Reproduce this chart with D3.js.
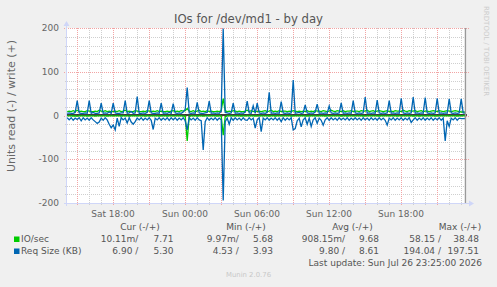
<!DOCTYPE html>
<html>
<head>
<meta charset="utf-8">
<script src="https://cdn.jsdelivr.net/npm/d3@7/dist/d3.min.js"></script>
<style>
  body { margin: 0; background: #f0f0f0; }
  svg text { font-family: 'DejaVu Sans', sans-serif; }
</style>
</head>
<body>
<svg id="chart" width="497" height="287"></svg>
<script>
// values, one sample every 10 minutes from Sat 14:11
// one line = one hour (6 samples)
var ioWrite = [
  9,10,9,11,9,12,   9,10,9,9,11,10,   9,9,10,9,12,10,   9,11,9,10,9,9,
  10,9,11,9,10,12,  9,10,9,9,11,10,   9,9,10,9,11,10,   9,10,9,11,9,10,
  9,9,10,9,10,11,   9,10,9,11,10,11,  16,10,9,11,9,10,  12,9,10,9,11,9,
  10,9,9,10,9,11,   38.5,11,9,10,9,11, 10,9,10,9,9,10,  12,9,11,9,10,9,
  10,9,10,11,9,10,  12,9,10,9,11,9,   10,10,9,10,9,11,  10,9,10,9,10,9,
  11,9,10,9,11,10,  10,9,11,10,9,10,  12,10,9,11,10,9,  11,9,10,10,11,9,
  10,10,9,11,10,10, 12,9,10,11,9,10,  11,10,9,10,11,9,  10,9,11,10,10,9,
  12,10,9,11,10,10, 11,9,10,11,9,10,  10,9,10,11,10,9,  11,10,9,10,11,10,
  9,10,11,10,9,8,   8,7.7
]
var ioRead = [
  0.9,1,0.8,1.1,1,1.2,  0.9,1,1,0.8,1.1,1,  1,0.9,1.2,1,0.8,1,  0.9,1,1.1,0.9,1,1,
  1,0.8,1,1.1,0.9,1,    1,1.2,0.9,1,1,0.8,  0.9,1,1,1.1,0.9,1,  1,0.9,1,0.8,1.1,1,
  0.9,1,1.1,1,0.9,1,    1,0.8,1,1,1.2,1,    58.15,2,1,0.9,1,1.1, 1,0.9,1.2,1,0.8,1,
  1,1,0.9,1.1,1,0.9,    45,3,1,0.9,1,1,     1,0.9,1,1.1,1,0.8,  1,1,0.9,1,1.1,1,
  0.9,1,1,0.8,1,1.1,    1,0.9,1.1,1,0.9,1,  1,1,0.8,1,1.1,0.9,  1,0.9,1,1,0.8,1,
  1.1,1,0.9,1,1,0.8,    1,0.9,1,1.1,1,1,    0.9,1,1,0.8,1,1.1,  1,0.9,1.1,1,0.9,1,
  1,1,0.8,1,1.1,0.9,    1,0.9,1,1,0.8,1,    1.1,1,0.9,1,1,0.8,  1,0.9,1,1.1,1,1,
  0.9,1,1,0.8,1,1.1,    1,0.9,1.1,1,0.9,1,  1,1,0.8,1,1.1,0.9,  1,0.9,1,1,0.8,1,
  1,0.9,1,1.1,1,0.9,    1,0.01
]
var reqWrite = [
  5,6,5,5,7,34,   6,5,5,6,5,34,   5,7,5,5,6,28,   5,6,5,8,5,28,
  6,5,5,6,6,34,   5,6,9,5,6,43,   5,5,6,5,7,34,   6,5,5,6,5,28,
  5,6,5,7,5,27,   6,5,6,5,8,14,   64,6,5,6,5,30,  6,5,5,6,7,33,
  5,6,5,6,5,9,    199,7,6,5,6,28, 5,6,5,6,5,8,    33,6,5,22,5,28,
  6,5,6,5,7,53,   5,6,5,6,5,32,   6,5,6,5,6,81,   5,6,7,5,6,24,
  6,5,6,5,8,26,   5,6,5,6,5,22,   6,5,6,5,6,29,   5,6,5,6,5,34,
  6,5,6,5,6,42,   5,6,5,6,5,35,   6,5,6,5,6,34,   5,6,5,6,5,39,
  6,5,6,5,6,42,   5,6,5,6,5,41,   6,5,6,5,6,39,   5,6,5,6,5,38,
  6,5,6,5,6,38,   6,5.3
]
var reqRead = [
  5,10,5,11,6,9,    5,12,5,10,6,11,   5,10,14,18,15,6,  11,5,10,20,28,22,
  33,6,25,5,10,6,   17,5,15,20,14,6,  10,5,11,6,10,5,   11,32,6,10,5,11,
  6,10,5,11,5,10,   5,11,6,10,5,12,   33,5,10,6,11,5,   10,12,79,14,5,11,
  6,10,5,11,6,10,   194.04,14,6,20,5,11, 5,10,6,11,5,10, 11,5,10,6,29,10,
  5,37,6,10,5,11,   6,10,5,11,6,14,   5,11,6,10,5,33,   30,12,6,26,10,5,
  20,6,25,10,5,18,  6,11,22,10,5,11,  5,10,6,11,5,10,   6,10,5,11,6,10,
  5,10,6,11,5,10,   6,11,5,10,6,11,   5,10,6,11,22,6,   10,5,11,6,10,5,
  11,6,10,5,16,10,  5,11,6,10,5,11,   6,10,5,11,6,10,   5,11,6,58,12,25,
  6,10,5,11,6,7,    7,6.9
]

var yTicks = [-200, -100, 0, 100, 200]
var seriesNames = ['IO/sec', 'Req Size (KB)']
var seriesColors = ['#00cc00', '#0066b3']
var legendHeads = ['Cur (-/+)', 'Min (-/+)', 'Avg (-/+)', 'Max (-/+)']
// read / write pairs per column, per series
var curVals = [['10.11m', '7.71'], ['6.90 ', '5.30']]
var minVals = [['9.97m', '5.68'], ['4.53 ', '3.93']]
var avgVals = [['908.15m', '9.68'], ['9.80 ', '8.61']]
var maxVals = [['58.15 ', '38.48'], ['194.04 ', '197.51']]

var startTime = new Date(Date.UTC(2026, 6, 25, 14, 10))
var endTime = new Date(Date.UTC(2026, 6, 26, 23, 30))
var firstSample = new Date(Date.UTC(2026, 6, 25, 14, 11))
var lastUpdate = new Date(Date.UTC(2026, 6, 26, 23, 25))
var stepMs = 10 * 60 * 1000

// plot box (window.top is taken, so px names)
var pxLeft = 67, pxRight = 467, pxTop = 28, pxBottom = 203

var svg = d3.select('#chart')
var x = d3.scaleUtc().domain([startTime, endTime]).range([pxLeft, pxRight])
var y = d3.scaleLinear().domain([-200, 200]).range([pxBottom, pxTop])

function timeOf (i) { return new Date(firstSample.getTime() + i * stepMs) }

svg.append('rect').attr('width', 497).attr('height', 287).attr('fill', '#f0f0f0')
svg.append('rect').attr('x', pxLeft).attr('y', pxTop)
  .attr('width', pxRight - pxLeft).attr('height', pxBottom - pxTop).attr('fill', '#fff')

// grid
var hours = d3.utcHour.range(startTime, endTime)
var g = svg.append('g')
g.selectAll('.vmin').data(hours.filter(function (d) { return d.getUTCHours() % 3 })).enter()
  .append('line')
  .attr('x1', function (d) { return Math.round(x(d)) + 0.5 })
  .attr('x2', function (d) { return Math.round(x(d)) + 0.5 })
  .attr('y1', pxTop).attr('y2', pxBottom + 2)
  .attr('stroke', '#cfcfcf').attr('stroke-dasharray', '1,1')
var yMinor = d3.range(-200, 201, 20).filter(function (v) { return v % 100 })
g.selectAll('.hmin').data(yMinor).enter().append('line')
  .attr('x1', pxLeft - 2).attr('x2', pxRight)
  .attr('y1', function (d) { return Math.round(y(d)) + 0.5 })
  .attr('y2', function (d) { return Math.round(y(d)) + 0.5 })
  .attr('stroke', '#cfcfcf').attr('stroke-dasharray', '1,1')
g.selectAll('.vmaj').data(hours.filter(function (d) { return d.getUTCHours() % 3 === 0 })).enter()
  .append('line')
  .attr('x1', function (d) { return Math.round(x(d)) + 0.5 })
  .attr('x2', function (d) { return Math.round(x(d)) + 0.5 })
  .attr('y1', pxTop).attr('y2', pxBottom + 3)
  .attr('stroke', '#f2a4a4').attr('stroke-dasharray', '1,1')
g.selectAll('.hmaj').data(yTicks).enter().append('line')
  .attr('x1', pxLeft - 3).attr('x2', pxRight + 3)
  .attr('y1', function (d) { return Math.round(y(d)) + 0.5 })
  .attr('y2', function (d) { return Math.round(y(d)) + 0.5 })
  .attr('stroke', '#f2a4a4').attr('stroke-dasharray', '1,1')

// tick labels
svg.selectAll('.ylab').data(yTicks).enter().append('text')
  .attr('x', 59).attr('y', function (d) { return y(d) + 3.2 })
  .attr('text-anchor', 'end').attr('font-size', 9).attr('fill', '#666')
  .text(function (d) { return d })
var fmt = d3.utcFormat('%a %H:%M')
svg.selectAll('.xlab').data(hours.filter(function (d) { return d.getUTCHours() % 6 === 0 })).enter()
  .append('text')
  .attr('x', function (d) { return x(d) }).attr('y', 216.5)
  .attr('text-anchor', 'middle').attr('font-size', 9).attr('fill', '#666')
  .text(function (d) { return fmt(d) })

// zero line, then the series
svg.append('line').attr('x1', pxLeft).attr('x2', pxRight)
  .attr('y1', y(0) - 0.5).attr('y2', y(0) - 0.5)
  .attr('stroke', '#000').attr('stroke-width', 1.5)

svg.append('clipPath').attr('id', 'clip').append('rect')
  .attr('x', pxLeft).attr('y', pxTop - 1).attr('width', pxRight - pxLeft).attr('height', pxBottom - pxTop + 1)

var line = d3.line()
  .x(function (d, i) { return x(timeOf(i)) })
  .y(function (d) { return y(d) })

var plots = [
  [ioRead.map(function (v) { return -v }), seriesColors[0]],
  [ioWrite, seriesColors[0]],
  [reqRead.map(function (v) { return -v }), seriesColors[1]],
  [reqWrite, seriesColors[1]]
]
var lg = svg.append('g').attr('clip-path', 'url(#clip)')
plots.forEach(function (p) {
  lg.append('path').attr('d', line(p[0]))
    .attr('fill', 'none').attr('stroke', p[1]).attr('stroke-width', 1.3)
})

// last update rule
svg.append('line')
  .attr('x1', Math.round(x(lastUpdate)) - 0.5).attr('x2', Math.round(x(lastUpdate)) - 0.5)
  .attr('y1', pxTop).attr('y2', pxBottom)
  .attr('stroke', '#999').attr('stroke-width', 1.5)

// axes with arrows
var axisCol = '#cfd6f8'
svg.append('line').attr('x1', pxLeft - 0.5).attr('x2', pxLeft - 0.5).attr('y1', pxBottom + 3).attr('y2', pxTop - 4)
  .attr('stroke', axisCol)
svg.append('path').attr('d', 'M' + (pxLeft - 3.5) + ',' + (pxTop - 2) + 'L' + (pxLeft - 0.5) + ',' + (pxTop - 7) + 'L' + (pxLeft + 2.5) + ',' + (pxTop - 2) + 'Z')
  .attr('fill', axisCol)
svg.append('line').attr('x1', pxLeft - 3).attr('x2', pxRight + 4).attr('y1', pxBottom + 0.5).attr('y2', pxBottom + 0.5)
  .attr('stroke', axisCol)
svg.append('path').attr('d', 'M' + (pxRight + 2) + ',' + (pxBottom - 2.5) + 'L' + (pxRight + 7) + ',' + (pxBottom + 0.5) + 'L' + (pxRight + 2) + ',' + (pxBottom + 3.5) + 'Z')
  .attr('fill', axisCol)

// titles
svg.append('text').attr('x', 248.5).attr('y', 23).attr('text-anchor', 'middle')
  .attr('font-size', 11.7).attr('fill', '#555').text('IOs for /dev/md1 - by day')
svg.append('text').attr('transform', 'translate(15,106) rotate(-90)')
  .attr('text-anchor', 'middle').attr('font-size', 11).attr('fill', '#666')
  .text('Units read (-) / write (+)')
svg.append('text').attr('transform', 'translate(484,6) rotate(90)')
  .attr('font-size', 7).attr('fill', '#ccc').text('RRDTOOL / TOBI OETIKER')

// legend
var headX = [140, 246, 352.5, 460]
svg.selectAll('.lhead').data(legendHeads).enter().append('text')
  .attr('x', function (d, i) { return headX[i] }).attr('y', 229.5)
  .attr('text-anchor', 'middle').attr('font-size', 9).attr('fill', '#555')
  .text(function (d) { return d })

var cols = [curVals, minVals, avgVals, maxVals]
var readEnd = [138.3, 238.7, 345, 441]
var writeEnd = [173.5, 273, 379, 479]
seriesNames.forEach(function (name, s) {
  var by = 242 + s * 12
  svg.append('rect').attr('x', 14).attr('y', by - 5.5).attr('width', 5.5).attr('height', 5.5)
    .attr('fill', seriesColors[s])
  svg.append('text').attr('x', 21).attr('y', by).attr('font-size', 9).attr('fill', '#555').text(name)
  cols.forEach(function (c, k) {
    svg.append('text').attr('x', readEnd[k]).attr('y', by).attr('text-anchor', 'end')
      .attr('font-size', 9).attr('fill', '#555').style('white-space', 'pre')
      .text(c[s][0] + '/')
    svg.append('text').attr('x', writeEnd[k]).attr('y', by).attr('text-anchor', 'end')
      .attr('font-size', 9).attr('fill', '#555').text(c[s][1])
  })
})
var upd = d3.utcFormat('%a %b %d %H:%M:%S %Y')
svg.append('text').attr('x', 482).attr('y', 265.5).attr('text-anchor', 'end')
  .attr('font-size', 9).attr('fill', '#555').text('Last update: ' + upd(lastUpdate))
svg.append('text').attr('x', 248.5).attr('y', 276.5).attr('text-anchor', 'middle')
  .attr('font-size', 6.9).attr('fill', '#c8c8c8').text('Munin 2.0.76')
</script>
</body>
</html>
